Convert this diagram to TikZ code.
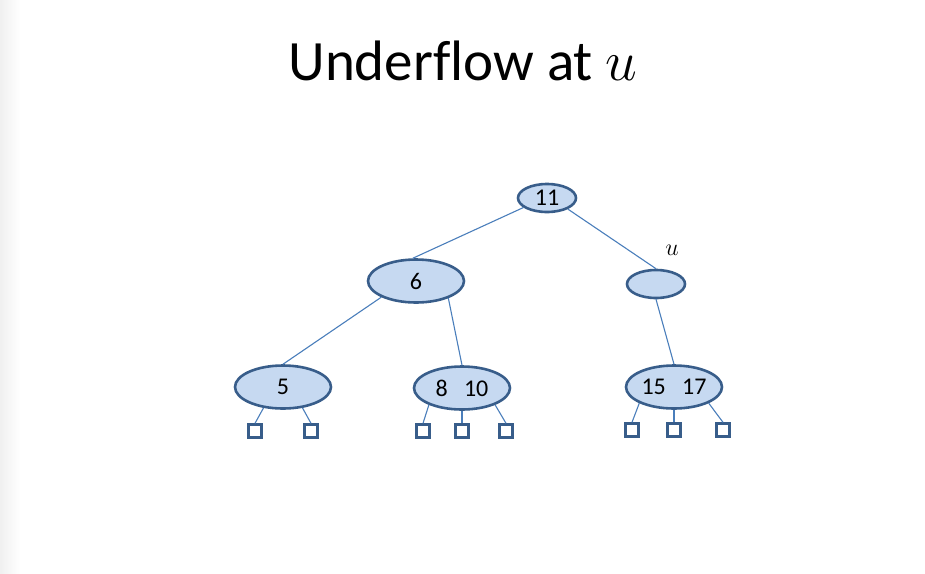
\RequirePackage{fix-cm}
\documentclass[tikz,border=0pt]{standalone}
\usepackage{fontspec}
\setmainfont{Carlito}[Ligatures=CommonOff]
\usepackage{tikz}
\usetikzlibrary{shapes.geometric, positioning}
\definecolor{keyfill}{RGB}{198,217,241}
\definecolor{keyline}{RGB}{56,93,138}
\definecolor{edgeline}{RGB}{74,126,187}

\begin{document}
\begin{tikzpicture}[
  x=1pt, y=-1pt,
  every node/.style={font=\fontsize{24}{28}\selectfont},
  key/.style={ellipse, draw=keyline, fill=keyfill, line width=2.6pt,
              minimum width=96pt, minimum height=43pt, inner sep=0pt},
  smallkey/.style={key, minimum width=58pt, minimum height=28pt},
  leaf/.style={rectangle, draw=keyline, fill=white, line width=2.4pt,
               minimum size=13pt, inner sep=0pt},
  edge/.style={draw=edgeline, line width=1.1pt},
]
\useasboundingbox (0,0) rectangle (925,573);
\shade[left color=black!6, right color=white] (0,0) rectangle (20,573);

\node[anchor=base, font=\fontsize{57}{62}\selectfont] (title) at (463,80)
  {Underflow at $u$};

\node[smallkey] (root) at (547,198) {11};
\node[key] (n6) at (416,281) {6};
\node[smallkey] (u) at (656,284) {};
\node (ulabel) at (672,250) {$u$};

\node[key] (n5) at (283,387) {5};
\node[key] (n810) at (462,388) {8~~~10};
\node[key] (n1517) at (674,387) {15~~~17};

\node[leaf] (l5a) at (255,431) {};
\node[leaf] (l5b) at (311,431) {};
\node[leaf] (l810a) at (423,431) {};
\node[leaf] (l810b) at (462,431) {};
\node[leaf] (l810c) at (506,431) {};
\node[leaf] (l1517a) at (632,430) {};
\node[leaf] (l1517b) at (674,430) {};
\node[leaf] (l1517c) at (723,430) {};

\draw[edge] (root.-158) -- (n6.98);
\draw[edge] (root.-28) -- (u.north);
\draw[edge] (n6.-155) -- (n5.north);
\draw[edge] (n6.-28) -- (n810.north);
\draw[edge] (u.south) -- (n1517.north);

\draw[edge] (n5.-133) -- (l5a.north);
\draw[edge] (n5.-47) -- (l5b.north);
\draw[edge] (n810.-153) -- (l810a.north);
\draw[edge] (n810.south) -- (l810b.north);
\draw[edge] (n810.-27) -- (l810c.north);
\draw[edge] (n1517.-155) -- (l1517a.north);
\draw[edge] (n1517.south) -- (l1517b.north);
\draw[edge] (n1517.-25) -- (l1517c.north);
\end{tikzpicture}
\end{document}
